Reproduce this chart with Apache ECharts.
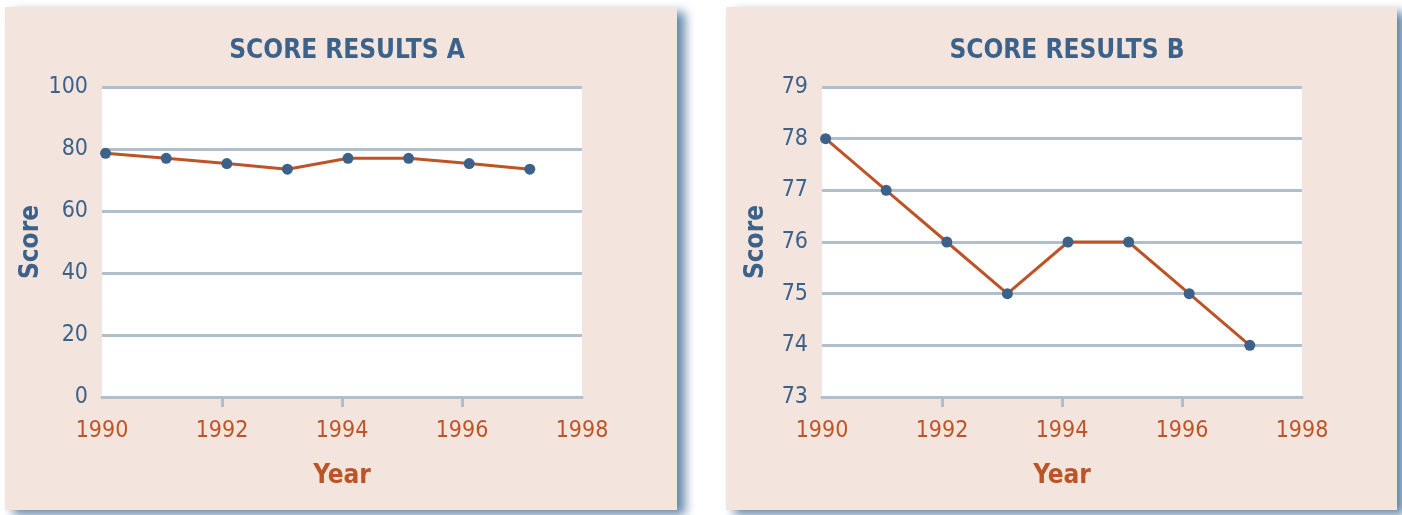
<!DOCTYPE html>
<html>
<head>
<meta charset="utf-8">
<script src="https://cdn.jsdelivr.net/npm/echarts@6/dist/echarts.min.js"></script>
<style>
html,body{margin:0;padding:0;background:#ffffff;}
#chart{width:1402px;height:515px;}
</style>
</head>
<body>
<div id="chart"></div>
<script>
// ---- data ----
var titles = ['SCORE RESULTS A', 'SCORE RESULTS B'];
var years = [1990.06, 1991.07, 1992.08, 1993.09, 1994.10, 1995.11, 1996.12, 1997.13];
var scoresA = [78.6, 77.0, 75.3, 73.5, 77.0, 77.0, 75.3, 73.5];
var scoresB = [78, 77, 76, 75, 76, 76, 75, 74];
var xTicks = [1992, 1994, 1996];
var yRangeA = [0, 100, 20];
var yRangeB = [73, 79, 1];
var xRange = [1990, 1998, 2];
var xName = 'Year';
var yName = 'Score';

// ---- style ----
var PINK = '#f3e4de';
var BLUE = '#3c6289';
var ORANGE = '#bd5428';
var GRAY = '#afbfce';
var NARROW = '"Liberation Sans Narrow", "DejaVu Sans Condensed", "Liberation Sans", sans-serif';

var chart = echarts.init(document.getElementById('chart'), null, {renderer: 'canvas'});

var panels = [{x: 5, w: 672}, {x: 726, w: 671}];
var gridLefts = [102, 822];

function pair(a, b) { return a.map(function (v, i) { return [v, b[i]]; }); }

var graphic = panels.map(function (p) {
  return {
    type: 'rect', z: -10, silent: true,
    shape: {x: p.x, y: 7, width: p.w, height: 503},
    style: {fill: PINK, shadowBlur: 10, shadowOffsetX: 8, shadowOffsetY: 5, shadowColor: 'rgba(100,135,170,1)'}
  };
});

var grids = gridLefts.map(function (l) {
  return {left: l, top: 87, width: 480, height: 310, containLabel: false,
          show: true, backgroundColor: '#ffffff', borderWidth: 0};
});

var xAxes = gridLefts.map(function (l, i) {
  return {
    type: 'value', gridIndex: i, min: xRange[0], max: xRange[1], interval: xRange[2],
    name: xName, nameLocation: 'middle', nameGap: 66,
    nameTextStyle: {color: ORANGE, fontFamily: NARROW, fontSize: 26, fontWeight: 'bold'},
    axisLine: {show: true, lineStyle: {color: GRAY, width: 3}},
    axisTick: {show: true, customValues: xTicks, length: 10, lineStyle: {color: GRAY, width: 3}},
    axisLabel: {color: ORANGE, fontFamily: NARROW, fontSize: 23, margin: 23,
                formatter: function (v) { return String(v); }},
    splitLine: {show: false}
  };
});

var yRanges = [yRangeA, yRangeB];
var yAxes = yRanges.map(function (r, i) {
  return {
    type: 'value', gridIndex: i, min: r[0], max: r[1], interval: r[2],
    name: yName, nameLocation: 'middle', nameGap: 53, nameRotate: 90,
    nameTextStyle: {color: BLUE, fontFamily: NARROW, fontSize: 26, fontWeight: 'bold'},
    axisLine: {show: false}, axisTick: {show: false},
    axisLabel: {color: BLUE, fontFamily: NARROW, fontSize: 23, margin: 14,
                formatter: function (v) { return String(v); }},
    splitLine: {show: true, lineStyle: {color: GRAY, width: 3}}
  };
});

var titleOpts = titles.map(function (t, i) {
  return {
    text: t, left: gridLefts[i] + 240, top: 33, textAlign: 'center',
    textStyle: {color: BLUE, fontFamily: NARROW, fontSize: 26, fontWeight: 'bold'}
  };
});

var seriesData = [scoresA, scoresB];
var series = seriesData.map(function (s, i) {
  return {
    type: 'line', xAxisIndex: i, yAxisIndex: i, data: pair(years, s),
    symbol: 'circle', symbolSize: 11, showSymbol: true,
    itemStyle: {color: BLUE},
    lineStyle: {color: ORANGE, width: 3},
    z: 3, animation: false
  };
});

chart.setOption({
  animation: false,
  backgroundColor: '#ffffff',
  graphic: graphic,
  title: titleOpts,
  grid: grids,
  xAxis: xAxes,
  yAxis: yAxes,
  series: series
});
</script>
</body>
</html>
